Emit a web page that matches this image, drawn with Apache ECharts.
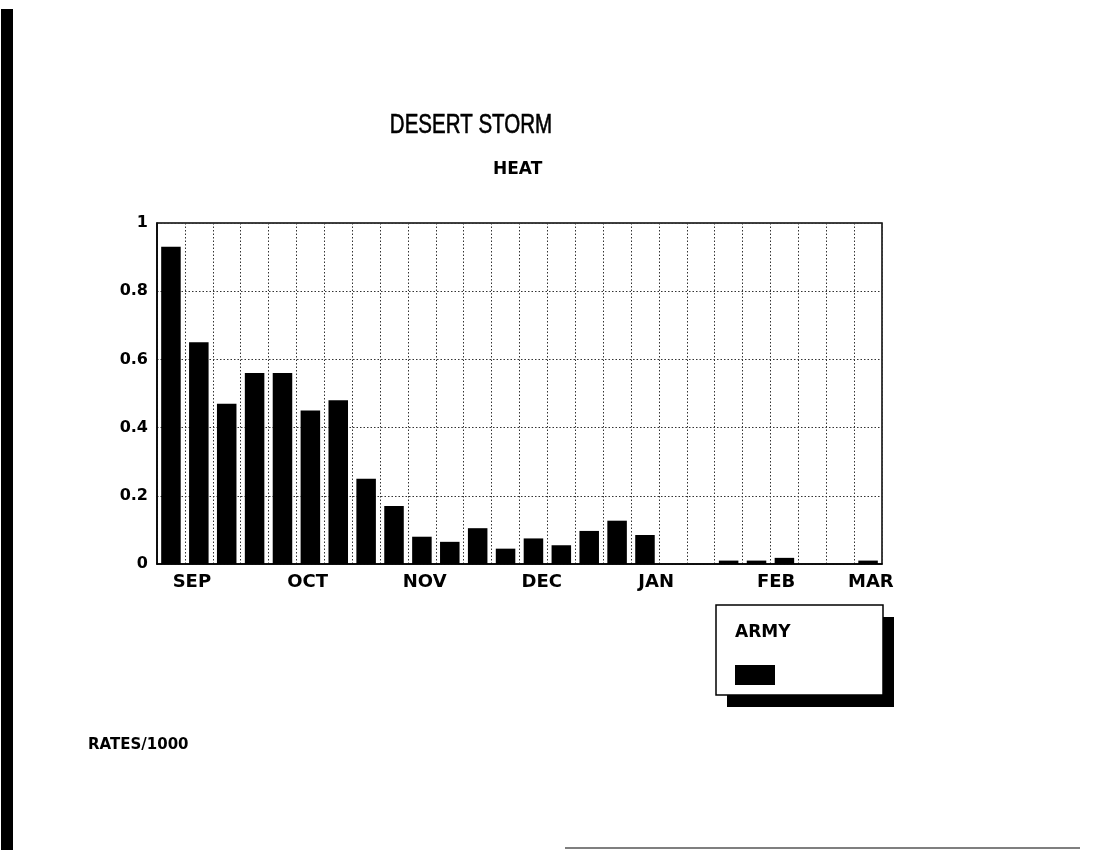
<!DOCTYPE html>
<html>
<head>
<meta charset="utf-8">
<script src="https://cdn.jsdelivr.net/npm/echarts@6/dist/echarts.min.js"></script>
<style>
html,body{margin:0;padding:0;background:#fff;}
#chart{width:1111px;height:850px;}
</style>
</head>
<body>
<div id="chart"></div>
<script>
// ---- data ----
var weeks = ['W1','W2','W3','W4','W5','W6','W7','W8','W9','W10','W11','W12','W13',
             'W14','W15','W16','W17','W18','W19','W20','W21','W22','W23','W24','W25','W26'];
var armyRates = [0.93, 0.65, 0.47, 0.56, 0.56, 0.45, 0.48, 0.25, 0.17, 0.08, 0.065, 0.105, 0.045,
                 0.075, 0.055, 0.097, 0.127, 0.085, 0, 0, 0.01, 0.01, 0.018, 0, 0, 0.01];
var monthLabels = ['SEP','OCT','NOV','DEC','JAN','FEB','MAR'];
var monthWeekPos = [1.25, 5.4, 9.6, 13.8, 17.9, 22.2, 25.6];
var yTicks = [0, 0.2, 0.4, 0.6, 0.8, 1];
var titleText = 'DESERT STORM';
var subtitleText = 'HEAT';
var noteText = 'RATES/1000';

var FONT = "'Liberation Sans', Arial, Helvetica, sans-serif";
var BFONT = "'DejaVu Sans', 'Liberation Sans', Arial, sans-serif";
var chart = echarts.init(document.getElementById('chart'), null, {renderer:'canvas'});

function legendBox(withBorder) {
  return {
    data: ['ARMY'],
    left: 716, top: 605,
    padding: [60, 108, 10, 19],
    itemWidth: 40, itemHeight: 20, itemGap: 0,
    icon: 'rect',
    formatter: function(){ return ''; },
    backgroundColor: withBorder ? 'transparent' : '#fff',
    borderColor: '#000', borderWidth: withBorder ? 1.5 : 0,
    shadowColor: withBorder ? 'transparent' : '#000', shadowBlur: 0,
    shadowOffsetX: withBorder ? 0 : 11, shadowOffsetY: withBorder ? 0 : 12,
    selectedMode: false,
    textStyle: { fontSize: 1 }
  };
}

var option = {
  backgroundColor: '#ffffff',
  animation: false,
  title: [
    { text: subtitleText, left: 493, top: 161, padding: 0,
      textStyle: { fontFamily: BFONT, fontSize: 17, fontWeight: 'bold', color: '#000' } },
    { text: noteText, left: 88, top: 738, padding: 0,
      textStyle: { fontFamily: BFONT, fontSize: 15, fontWeight: 'bold', color: '#000' } },
    { text: 'ARMY', left: 735, top: 624, padding: 0, z: 20,
      textStyle: { fontFamily: BFONT, fontSize: 17, fontWeight: 'bold', color: '#000' } }
  ],
  legend: [legendBox(false), legendBox(true)],
  grid: { left: 157, right: 229, top: 223, bottom: 286, show: true, borderColor: '#000', borderWidth: 1.5, backgroundColor: 'transparent' },
  xAxis: [
    { type: 'category', data: weeks, boundaryGap: true,
      axisLine: { show: true, lineStyle: { color: '#000', width: 1.5 } },
      axisTick: { show: false },
      axisLabel: { show: false },
      splitLine: { show: true, interval: 0, lineStyle: { color: '#333', type: [1.5, 2], width: 1 } } },
    { type: 'value', min: 0, max: weeks.length, position: 'bottom',
      axisLine: { show: false }, axisTick: { show: false }, splitLine: { show: false },
      axisLabel: { show: true, customValues: monthWeekPos, margin: 9,
        fontFamily: BFONT, fontSize: 18, fontWeight: 'bold', color: '#000',
        formatter: function(v){ var i = monthWeekPos.indexOf(v); return i >= 0 ? monthLabels[i] : ''; } } }
  ],
  yAxis: {
    type: 'value', min: 0, max: 1, interval: 0.2,
    axisLine: { show: true, lineStyle: { color: '#000', width: 1.5 } },
    axisTick: { show: false },
    axisLabel: { margin: 9, fontFamily: BFONT, fontSize: 16, fontWeight: 'bold', color: '#000',
      formatter: function(v){ var r = Math.round(v*10)/10; return yTicks.indexOf(r) >= 0 ? String(r) : ''; } },
    splitLine: { show: true, lineStyle: { color: '#333', type: [1.5, 2], width: 1 } }
  },
  series: [{
    name: 'ARMY', type: 'bar', data: armyRates, xAxisIndex: 0,
    barCategoryGap: '30%',
    itemStyle: { color: '#000' }
  }],
  graphic: [
    { type: 'text', x: 471, y: 126, scaleX: 0.76, scaleY: 1,
      style: { text: titleText, fontFamily: FONT, fontSize: 27, fontWeight: 'normal', fill: '#000',
               stroke: '#000', lineWidth: 0.6,
               align: 'center', verticalAlign: 'middle', textAlign: 'center', textVerticalAlign: 'middle' } },
    { type: 'rect', left: 1, top: 9, shape: { width: 12, height: 841 }, style: { fill: '#000' }, silent: true },
    { type: 'line', shape: { x1: 565, y1: 848, x2: 1080, y2: 848 }, style: { stroke: '#555', lineWidth: 1.5 }, silent: true }
  ]
};
chart.setOption(option);
</script>
</body>
</html>
